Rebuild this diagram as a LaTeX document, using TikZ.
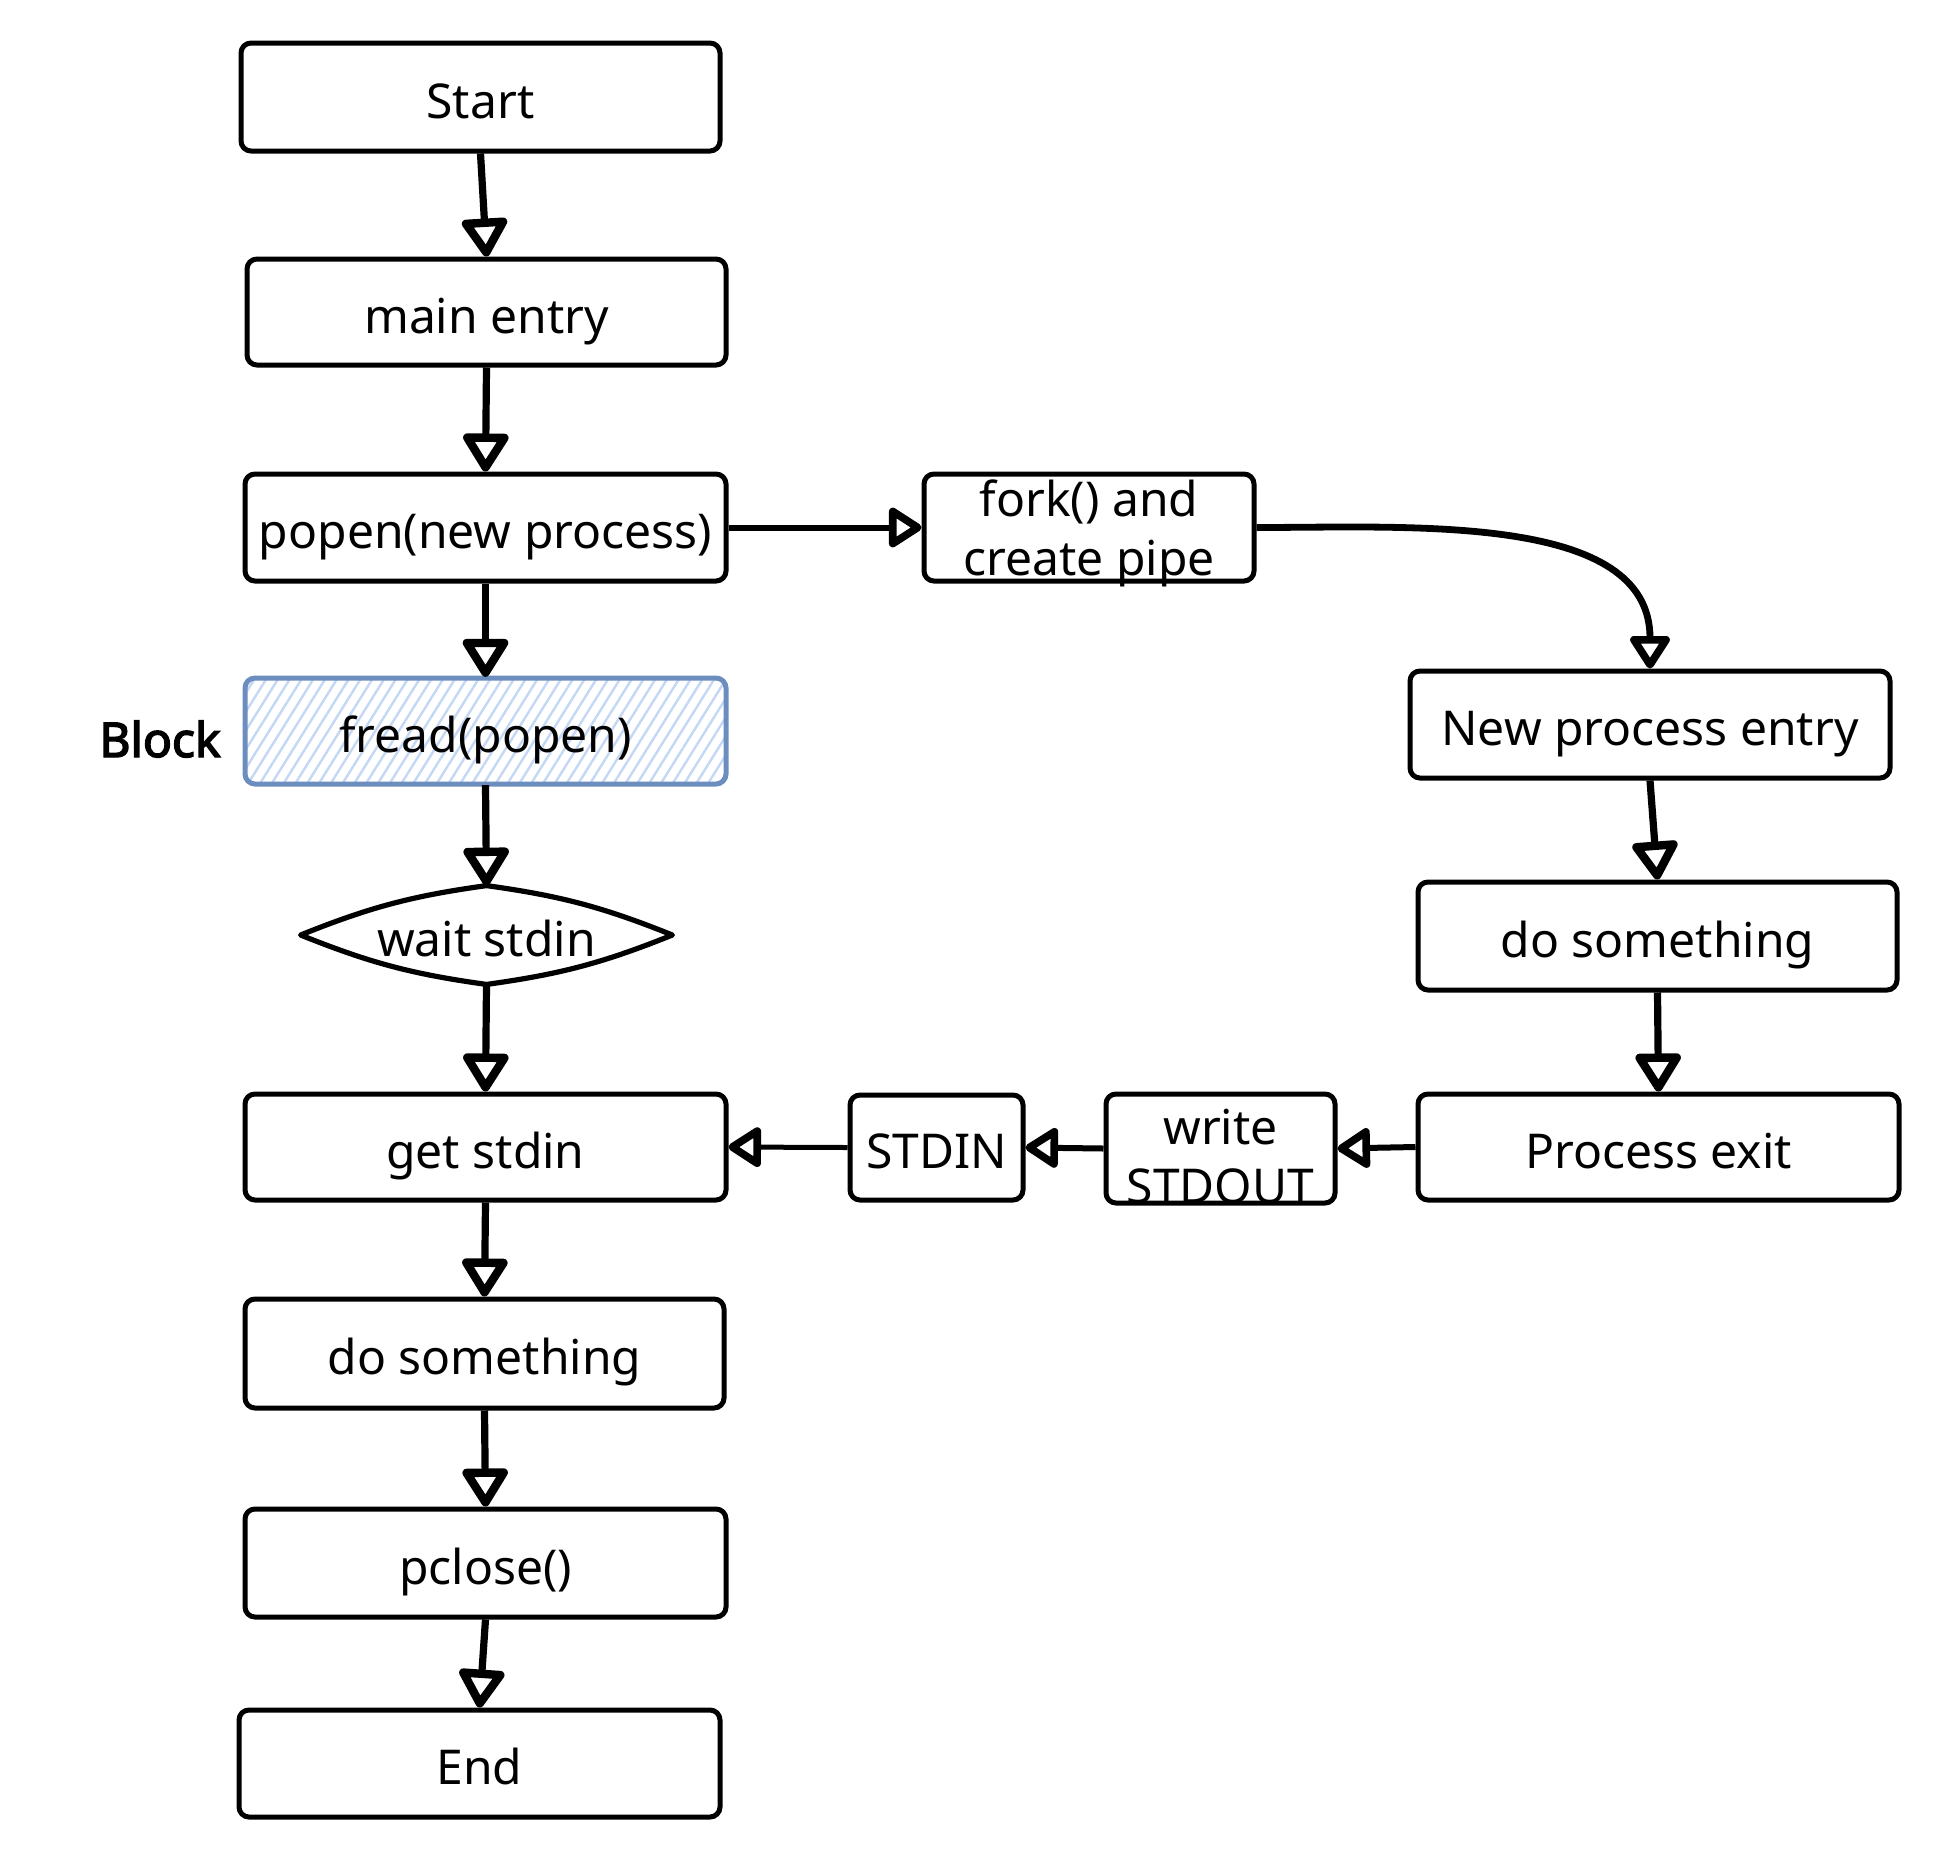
\documentclass[tikz,border=0pt]{standalone}
\usepackage{fontspec}
\setmainfont{Noto Sans}
\newfontfamily\blkfont{Noto Sans}[FakeBold=3]
\usetikzlibrary{arrows.meta,patterns.meta,positioning}
\definecolor{hatch}{HTML}{C4D8F5}
\definecolor{bluebd}{HTML}{6C8EBF}
\tikzset{
  box/.style={draw=black, line width=2.5pt, rounded corners=5pt, inner sep=0pt, align=center,
    font=\fontsize{24}{29.5}\selectfont, text height=21pt, text depth=0pt},
  mbox/.style={draw=black, line width=2.5pt, rounded corners=5pt, inner sep=0pt},
  plain/.style={inner sep=0pt, align=center, font=\fontsize{24}{29.5}\selectfont},
  varr/.style={line width=3.6pt, -{Triangle[open,length=21pt,width=25pt,line width=4.2pt,round]}},
  harr/.style={line width=3pt, -{Triangle[open,length=18pt,width=22pt,line width=3.8pt,round]}},
}
\begin{document}
\begin{tikzpicture}[x=0.5pt,y=-0.5pt]
\fill[white] (0,0) rectangle (1940,1860);
\useasboundingbox (0,0) rectangle (1940,1860);

% left column
\node[box, minimum width=239.5pt, minimum height=54pt] (start) at (480.5,97) {Start};
\node[box, minimum width=239.5pt, minimum height=53pt] (entry) at (486.5,312) {main entry};
\node[box, minimum width=240.5pt, minimum height=53.5pt] (popen) at (485.5,527.5) {popen(new process)};
\node[box, draw=bluebd, pattern={Lines[angle=58,distance=5pt,line width=1.2pt]}, pattern color=hatch,
  minimum width=240.5pt, minimum height=53pt] (fread) at (485.5,731) {fread(popen)};
\node[plain, font=\fontsize{24}{29.5}\blkfont, text height=21pt, text depth=0pt] (blk) at (160,736) {Block};
\node[plain, minimum width=185.5pt, minimum height=49pt, text height=21pt, text depth=0pt] (wait) at (486.5,935) {wait stdin};
\draw[line width=2.6pt, line join=round]
  (wait.west) to[bend left=7] (wait.north) to[bend left=7] (wait.east)
  to[bend left=7] (wait.south) to[bend left=7] cycle;
\node[box, minimum width=240.5pt, minimum height=53pt] (gets) at (485.5,1147) {get stdin};
\node[box, minimum width=239.5pt, minimum height=54.5pt] (dol) at (484.5,1353.5) {do something};
\node[box, minimum width=240.5pt, minimum height=54pt] (pclose) at (485.5,1563) {pclose()};
\node[box, minimum width=240.5pt, minimum height=53.5pt] (end) at (479.5,1763.5) {End};

% right side
\node[mbox, minimum width=165pt, minimum height=53.5pt] (fork) at (1089,527.5) {};
\node[plain] (forkt) at (1089,533) {fork() and\\create pipe};
\node[box, minimum width=240pt, minimum height=53.5pt] (npe) at (1650,724.5) {New process entry};
\node[box, minimum width=239.5pt, minimum height=54pt] (dor) at (1657.5,936) {do something};
\node[box, minimum width=240.5pt, minimum height=53pt] (pexit) at (1658.5,1147) {Process exit};
\node[mbox, minimum width=114.5pt, minimum height=54.5pt] (wso) at (1220.5,1148.5) {};
\node[plain] (wsot) at (1220.5,1157) {write\\STDOUT};
\node[box, minimum width=86.5pt, minimum height=52.5pt] (stdin) at (936.5,1147.5) {STDIN};

% vertical arrows
\draw[varr] (start.south) -- (entry.north);
\draw[varr] (entry.south) -- (popen.north);
\draw[varr] (popen.south) -- (fread.north);
\draw[varr] (fread.south) -- (wait.north);
\draw[varr] (wait.south) -- (gets.north);
\draw[varr] (gets.south) -- (dol.north);
\draw[varr] (dol.south) -- (pclose.north);
\draw[varr] (pclose.south) -- (end.north);
\draw[varr] (npe.south) -- (dor.north);
\draw[varr] (dor.south) -- (pexit.north);

% horizontal arrows
\draw[harr] (popen.east) -- (fork.west);
\draw[harr, line width=3.4pt] (fork.east) to[out=0,in=90,looseness=0.95] (npe.north);
\draw[harr] (pexit.west) -- (wso.east);
\draw[harr] (wso.west) -- (stdin.east);
\draw[harr, line width=2.5pt] (stdin.west) -- (gets.east);
\end{tikzpicture}
\end{document}
